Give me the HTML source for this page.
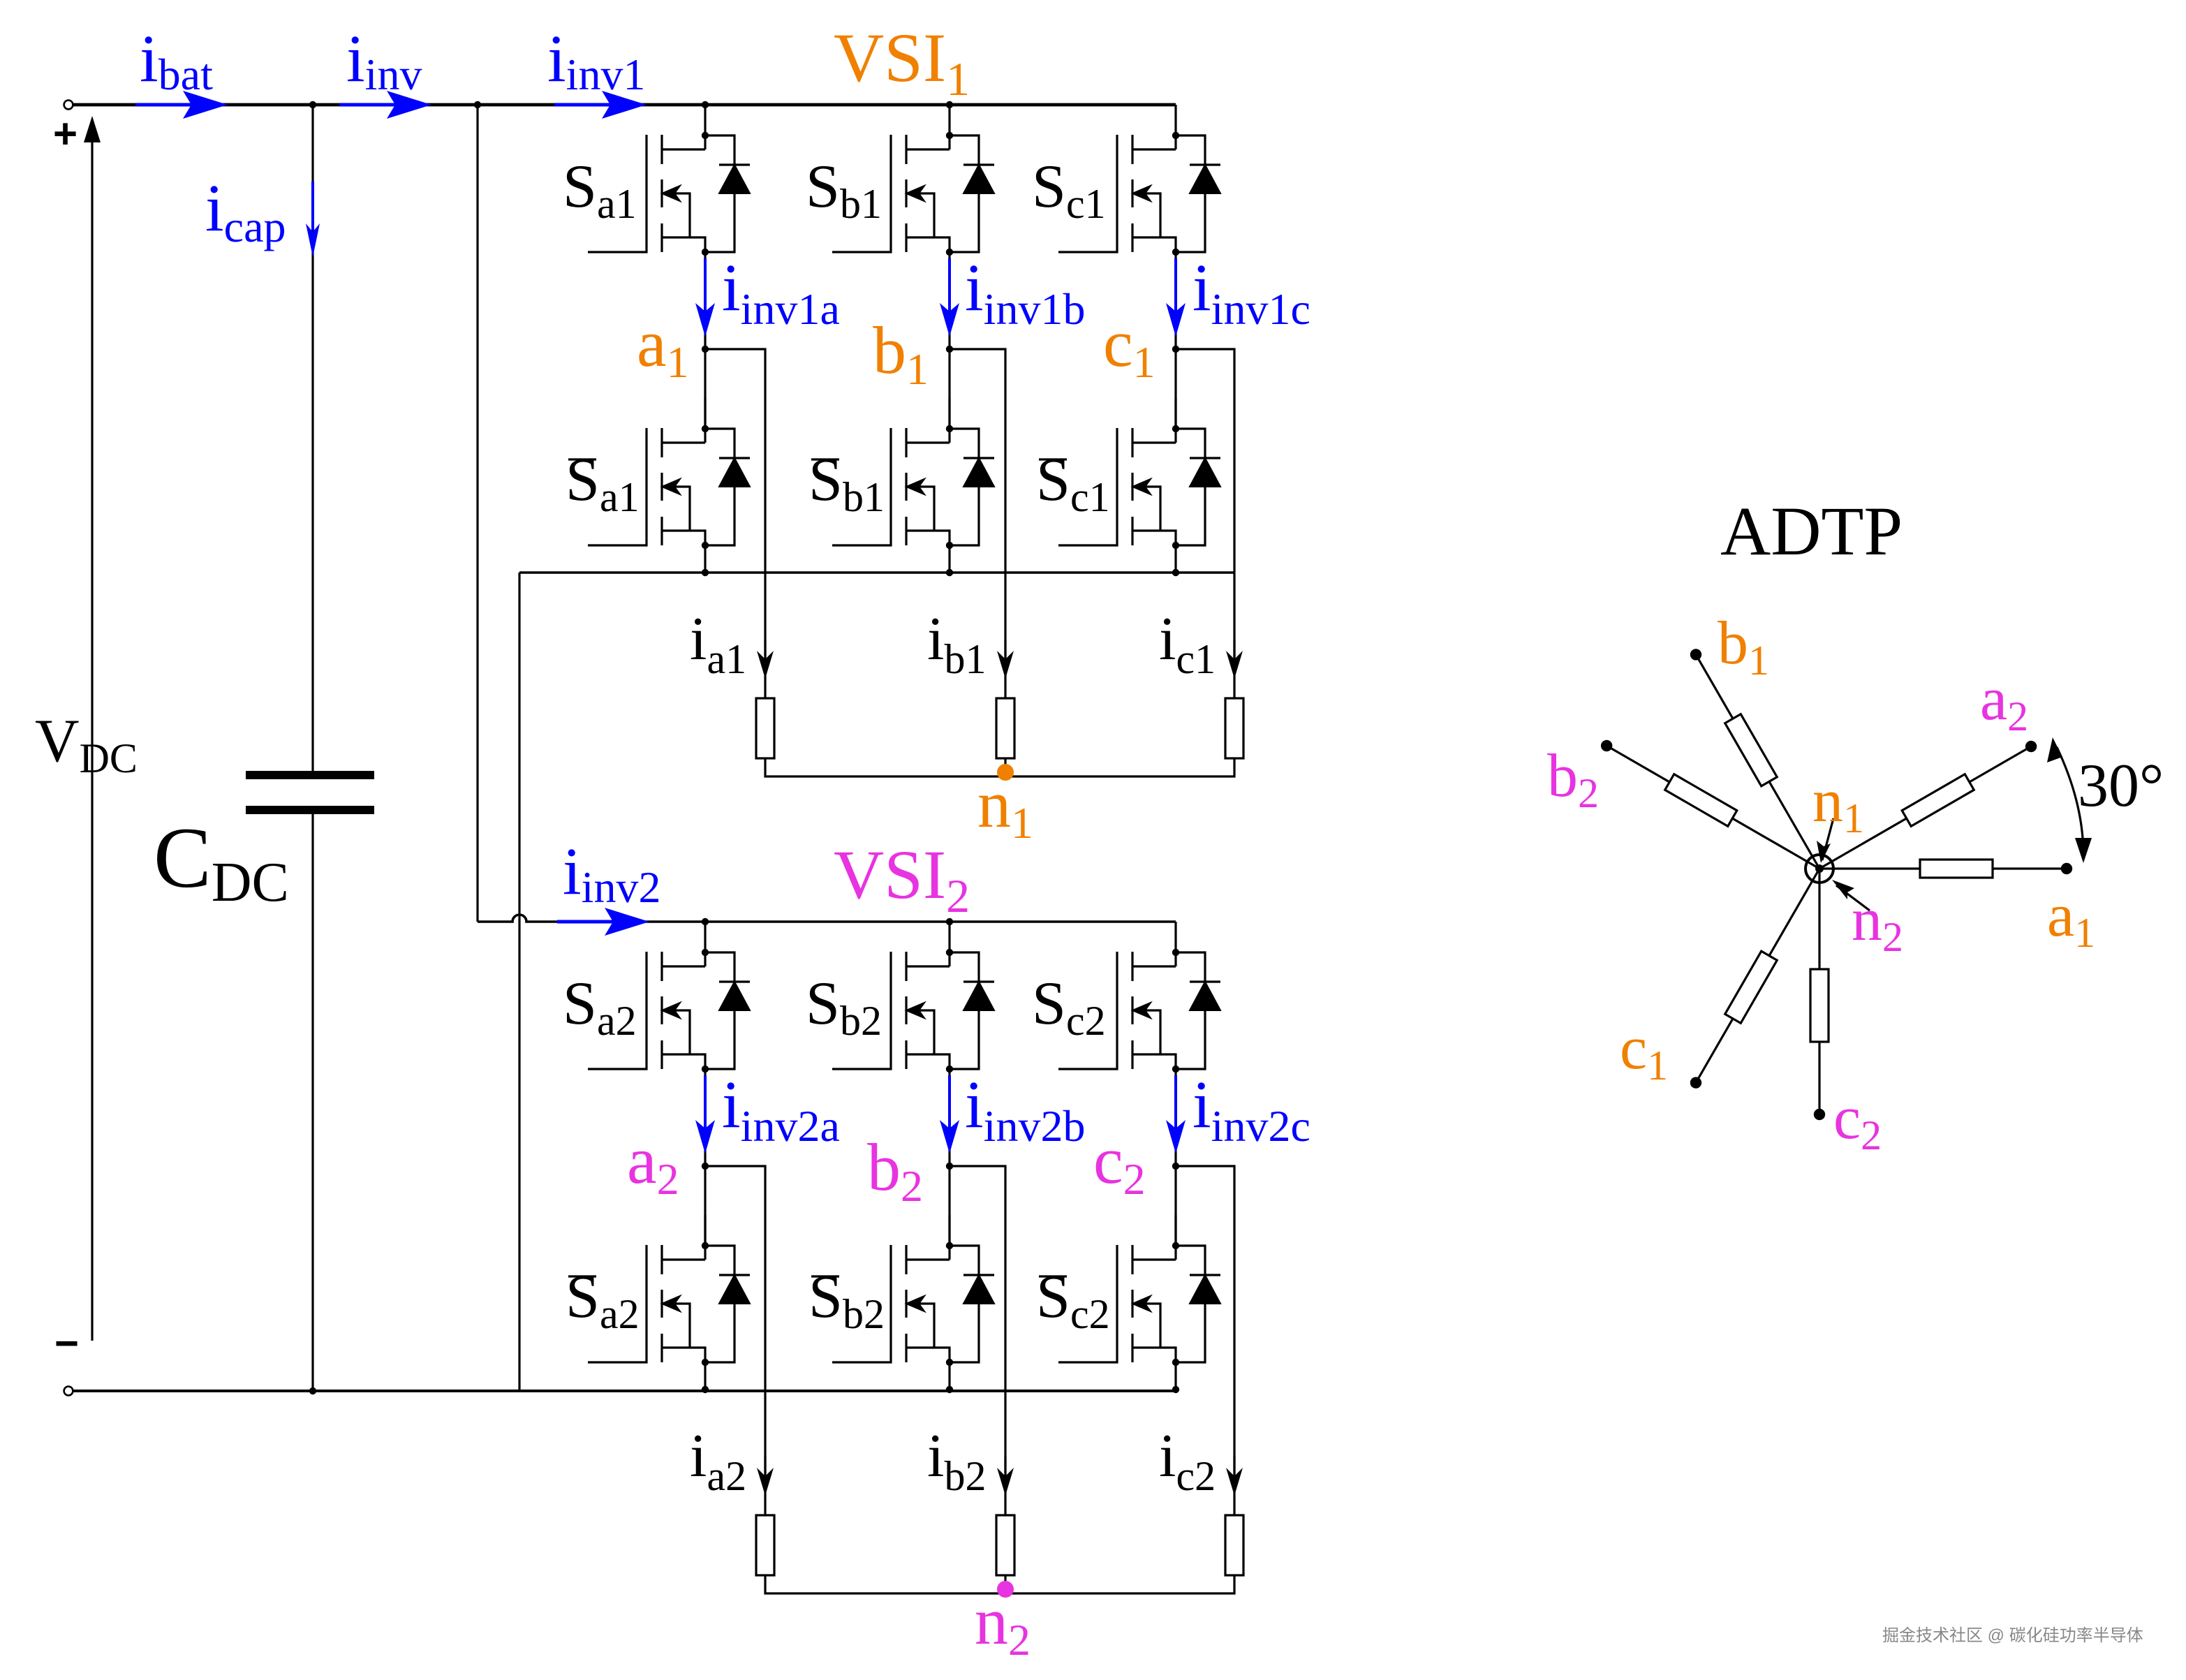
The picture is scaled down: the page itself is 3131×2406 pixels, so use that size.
<!DOCTYPE html>
<html><head><meta charset="utf-8"><style>html,body{margin:0;padding:0;background:#fff}svg{display:block}</style></head>
<body>
<svg width="3131" height="2406" viewBox="0 0 1565.5 1203" xmlns="http://www.w3.org/2000/svg" font-family="'Liberation Serif', serif">
<defs>
<g id="sw" stroke="#000" stroke-width="1.6" fill="none">
  <line x1="0" y1="0" x2="0" y2="32"/>
  <polyline points="0,32 -31,32"/>
  <line x1="-31" y1="21.5" x2="-31" y2="42.5"/>
  <line x1="-31" y1="53.5" x2="-31" y2="73.5"/>
  <line x1="-31" y1="85" x2="-31" y2="105.5"/>
  <polyline points="-84,105.5 -42,105.5 -42,21.5"/>
  <polyline points="-31,95 0,95 0,105.5"/>
  <polyline points="-26,63.5 -11,63.5 -11,95"/>
  <polygon points="-31,63.5 -18,58 -22,63.5 -18,69" fill="#000" stroke-width="1"/>
  <polyline points="0,22 21,22 21,105.5 0,105.5"/>
  <line x1="10" y1="43" x2="32" y2="43"/>
  <polygon points="21,43 10,63.5 32,63.5" fill="#000" stroke-width="1"/>
  <circle cx="0" cy="22" r="2.6" fill="#000" stroke="none"/>
  <circle cx="0" cy="105.5" r="2.6" fill="#000" stroke="none"/>
</g>
<g id="res" stroke="#000" stroke-width="1.6" fill="#fff">
  <rect x="-6.5" y="0" width="13" height="43"/>
</g>
<g id="dn">
  <line x1="0" y1="0" x2="0" y2="22" stroke="#000" stroke-width="1.6"/>
  <polygon points="0,28 -6,8 0,14 6,8" fill="#000"/>
</g>
<g id="bdn">
  <line x1="0" y1="0" x2="0" y2="40" stroke="#00f" stroke-width="2"/>
  <polygon points="0,56 -7,32 0,38 7,32" fill="#00f"/>
</g>
<g id="br">
  <line x1="0" y1="0" x2="40" y2="0" stroke="#00f" stroke-width="2.5"/>
  <polygon points="66,0 34,-10 40,0 34,10" fill="#00f"/>
</g>
</defs>

<g stroke="#000" fill="none">
  <line x1="52" y1="75" x2="842" y2="75" stroke-width="2.4"/>
  <line x1="52" y1="996" x2="842" y2="996" stroke-width="2"/>
  <line x1="224" y1="75" x2="224" y2="554" stroke-width="1.6"/>
  <line x1="224" y1="581" x2="224" y2="996" stroke-width="1.6"/>
  <line x1="176" y1="555" x2="268" y2="555" stroke-width="6"/>
  <line x1="176" y1="580" x2="268" y2="580" stroke-width="6"/>
  <line x1="342" y1="75" x2="342" y2="660" stroke-width="1.6"/>
  <path d="M342,660 H367 A5,5 0 0 1 377,660 H842" stroke-width="1.8"/>
  <line x1="372" y1="410" x2="372" y2="996" stroke-width="1.6"/>
  <line x1="372" y1="410" x2="884" y2="410" stroke-width="1.8"/>
  <line x1="66" y1="100" x2="66" y2="960" stroke-width="1.6"/>
</g>
<polygon points="66,83 60,102 72,102" fill="#000"/>
<circle cx="49" cy="75" r="3.2" fill="#fff" stroke="#000" stroke-width="1.3"/>
<circle cx="49" cy="996" r="3.2" fill="#fff" stroke="#000" stroke-width="1.3"/>
<circle cx="224" cy="75" r="2.6"/><circle cx="342" cy="75" r="2.6"/><circle cx="224" cy="996" r="2.6"/>
<text x="38" y="106" font-size="30" font-family="'Liberation Sans',sans-serif" font-weight="bold">+</text>
<text x="39" y="972" font-size="30" font-family="'Liberation Sans',sans-serif" font-weight="bold">−</text>

<use href="#br" x="97" y="75"/>
<use href="#br" x="243" y="75"/>
<use href="#br" x="397" y="75"/>
<use href="#br" x="399" y="660"/>
<line x1="224" y1="130" x2="224" y2="165" stroke="#00f" stroke-width="2"/>
<polygon points="224,184 219,160 224,166 229,160" fill="#00f"/>

<g id="vsi1">
  <g stroke="#000" stroke-width="1.6" fill="none">
    <line x1="505" y1="180.5" x2="505" y2="307"/>
    <line x1="680" y1="180.5" x2="680" y2="307"/>
    <line x1="842" y1="180.5" x2="842" y2="307"/>
    <line x1="505" y1="390.5" x2="505" y2="410"/>
    <line x1="680" y1="390.5" x2="680" y2="410"/>
    <line x1="842" y1="390.5" x2="842" y2="410"/>
    <polyline points="505,250 548,250 548,500"/>
    <polyline points="680,250 720,250 720,500"/>
    <polyline points="842,250 884,250 884,500"/>
    <polyline points="548,543 548,556 884,556 884,543"/>
    <line x1="720" y1="543" x2="720" y2="556"/>
  </g>
  <use href="#sw" x="505" y="75"/><use href="#sw" x="680" y="75"/><use href="#sw" x="842" y="75"/>
  <use href="#sw" x="505" y="285"/><use href="#sw" x="680" y="285"/><use href="#sw" x="842" y="285"/>
  <circle cx="505" cy="250" r="2.6"/><circle cx="680" cy="250" r="2.6"/><circle cx="842" cy="250" r="2.6"/>
  <circle cx="505" cy="410" r="2.6"/><circle cx="680" cy="410" r="2.6"/><circle cx="842" cy="410" r="2.6"/>
  <circle cx="505" cy="75" r="2.6"/><circle cx="680" cy="75" r="2.6"/>
  <use href="#bdn" x="505" y="185"/><use href="#bdn" x="680" y="185"/><use href="#bdn" x="842" y="185"/>
  <use href="#dn" x="548" y="458"/><use href="#dn" x="720" y="458"/><use href="#dn" x="884" y="458"/>
  <use href="#res" x="548" y="500"/><use href="#res" x="720" y="500"/><use href="#res" x="884" y="500"/>
</g>
<use href="#vsi1" x="0" y="585"/>
<circle cx="720" cy="553" r="6" fill="#f08000"/>
<circle cx="720" cy="1138" r="6" fill="#e833e0"/>

<g fill="#00f" font-size="48">
  <text x="100" y="58">i<tspan font-size="32" dy="6">bat</tspan></text>
  <text x="248" y="58">i<tspan font-size="32" dy="6">inv</tspan></text>
  <text x="392" y="58">i<tspan font-size="32" dy="6">inv1</tspan></text>
  <text x="147" y="165">i<tspan font-size="32" dy="8">cap</tspan></text>
  <text x="403" y="640">i<tspan font-size="32" dy="6">inv2</tspan></text>
  <text x="517" y="222">i<tspan font-size="32" dy="10">inv1a</tspan></text>
  <text x="691" y="222">i<tspan font-size="32" dy="10">inv1b</tspan></text>
  <text x="854" y="222">i<tspan font-size="32" dy="10">inv1c</tspan></text>
  <text x="517" y="807">i<tspan font-size="32" dy="10">inv2a</tspan></text>
  <text x="691" y="807">i<tspan font-size="32" dy="10">inv2b</tspan></text>
  <text x="854" y="807">i<tspan font-size="32" dy="10">inv2c</tspan></text>
</g>
<g fill="#000" font-size="44">
  <text x="403" y="148">S<tspan font-size="30" dy="8">a1</tspan></text>
  <text x="577" y="148">S<tspan font-size="30" dy="8">b1</tspan></text>
  <text x="739" y="148">S<tspan font-size="30" dy="8">c1</tspan></text>
  <text x="405" y="358">S<tspan font-size="30" dy="8">a1</tspan></text>
  <text x="579" y="358">S<tspan font-size="30" dy="8">b1</tspan></text>
  <text x="742" y="358">S<tspan font-size="30" dy="8">c1</tspan></text>
  <text x="403" y="733">S<tspan font-size="30" dy="8">a2</tspan></text>
  <text x="577" y="733">S<tspan font-size="30" dy="8">b2</tspan></text>
  <text x="739" y="733">S<tspan font-size="30" dy="8">c2</tspan></text>
  <text x="405" y="943">S<tspan font-size="30" dy="8">a2</tspan></text>
  <text x="579" y="943">S<tspan font-size="30" dy="8">b2</tspan></text>
  <text x="742" y="943">S<tspan font-size="30" dy="8">c2</tspan></text>
  <text x="494" y="472">i<tspan font-size="30" dy="10">a1</tspan></text>
  <text x="664" y="472">i<tspan font-size="30" dy="10">b1</tspan></text>
  <text x="830" y="472">i<tspan font-size="30" dy="10">c1</tspan></text>
  <text x="494" y="1057">i<tspan font-size="30" dy="10">a2</tspan></text>
  <text x="664" y="1057">i<tspan font-size="30" dy="10">b2</tspan></text>
  <text x="830" y="1057">i<tspan font-size="30" dy="10">c2</tspan></text>
  <text x="25" y="545">V<tspan font-size="30" dy="8">DC</tspan></text>
  <text x="110" y="635" font-size="62">C<tspan font-size="40" dy="10">DC</tspan></text>
  <text x="1232" y="397" font-size="50">ADTP</text>
  <text x="1488" y="577" font-size="44">30°</text>
</g>
<g stroke="#000" stroke-width="1.6">
  <line x1="407" y1="329" x2="427" y2="329"/><line x1="581" y1="329" x2="601" y2="329"/><line x1="744" y1="329" x2="764" y2="329"/>
  <line x1="407" y1="914" x2="427" y2="914"/><line x1="581" y1="914" x2="601" y2="914"/><line x1="744" y1="914" x2="764" y2="914"/>
</g>
<g fill="#f08000" font-size="48">
  <text x="597" y="58" font-size="50">VSI<tspan font-size="34" dy="10">1</tspan></text>
  <text x="456" y="262">a<tspan font-size="32" dy="8">1</tspan></text>
  <text x="625" y="267">b<tspan font-size="32" dy="8">1</tspan></text>
  <text x="790" y="262">c<tspan font-size="32" dy="8">1</tspan></text>
  <text x="700" y="592">n<tspan font-size="32" dy="8">1</tspan></text>
</g>
<g fill="#e833e0" font-size="48">
  <text x="597" y="643" font-size="50">VSI<tspan font-size="34" dy="10">2</tspan></text>
  <text x="449" y="847">a<tspan font-size="32" dy="8">2</tspan></text>
  <text x="621" y="852">b<tspan font-size="32" dy="8">2</tspan></text>
  <text x="783" y="847">c<tspan font-size="32" dy="8">2</tspan></text>
  <text x="698" y="1177">n<tspan font-size="32" dy="8">2</tspan></text>
</g>

<g transform="translate(1303,622)">
  <g stroke="#000" stroke-width="1.6">
    <g transform="rotate(0)"><line x1="0" y1="0" x2="177" y2="0"/><rect x="72" y="-6.5" width="52" height="13" fill="#fff"/><circle cx="177" cy="0" r="3.3" fill="#000"/></g>
    <g transform="rotate(-30)"><line x1="0" y1="0" x2="175" y2="0"/><rect x="72" y="-6.5" width="52" height="13" fill="#fff"/><circle cx="175" cy="0" r="3.3" fill="#000"/></g>
    <g transform="rotate(-120)"><line x1="0" y1="0" x2="177" y2="0"/><rect x="72" y="-6.5" width="52" height="13" fill="#fff"/><circle cx="177" cy="0" r="3.3" fill="#000"/></g>
    <g transform="rotate(-150)"><line x1="0" y1="0" x2="176" y2="0"/><rect x="72" y="-6.5" width="52" height="13" fill="#fff"/><circle cx="176" cy="0" r="3.3" fill="#000"/></g>
    <g transform="rotate(-240)"><line x1="0" y1="0" x2="177" y2="0"/><rect x="72" y="-6.5" width="52" height="13" fill="#fff"/><circle cx="177" cy="0" r="3.3" fill="#000"/></g>
    <g transform="rotate(-270)"><line x1="0" y1="0" x2="176" y2="0"/><rect x="72" y="-6.5" width="52" height="13" fill="#fff"/><circle cx="176" cy="0" r="3.3" fill="#000"/></g>
    <circle cx="0" cy="0" r="10" fill="none" stroke-width="2"/>
    <line x1="10" y1="-36" x2="2" y2="-6"/>
    <line x1="36" y1="30" x2="12" y2="12"/>
  </g>
  <circle cx="0" cy="0" r="3" fill="#000"/>
  <polygon points="1,-4 -2,-20 3,-16 8,-18" fill="#000"/>
  <polygon points="9,8 25,14 20,17 20,22" fill="#000"/>
</g>
<path d="M1473,535 Q1492,575 1492,612" stroke="#000" stroke-width="1.6" fill="none"/>
<polygon points="1470,528 1466,546 1477,542" fill="#000"/>
<polygon points="1492,618 1486,600 1498,600" fill="#000"/>
<g fill="#f08000" font-size="44">
  <text x="1230" y="475">b<tspan font-size="30" dy="8">1</tspan></text>
  <text x="1298" y="588">n<tspan font-size="30" dy="8">1</tspan></text>
  <text x="1466" y="670">a<tspan font-size="30" dy="8">1</tspan></text>
  <text x="1160" y="765">c<tspan font-size="30" dy="8">1</tspan></text>
</g>
<g fill="#e833e0" font-size="44">
  <text x="1418" y="515">a<tspan font-size="30" dy="8">2</tspan></text>
  <text x="1108" y="570">b<tspan font-size="30" dy="8">2</tspan></text>
  <text x="1326" y="673">n<tspan font-size="30" dy="8">2</tspan></text>
  <text x="1313" y="815">c<tspan font-size="30" dy="8">2</tspan></text>
</g>
<text x="1348" y="1175" font-size="12" fill="#888" font-family="'Liberation Sans','Noto Sans CJK SC',sans-serif">掘金技术社区 @ 碳化硅功率半导体</text>
</svg>
</body></html>
